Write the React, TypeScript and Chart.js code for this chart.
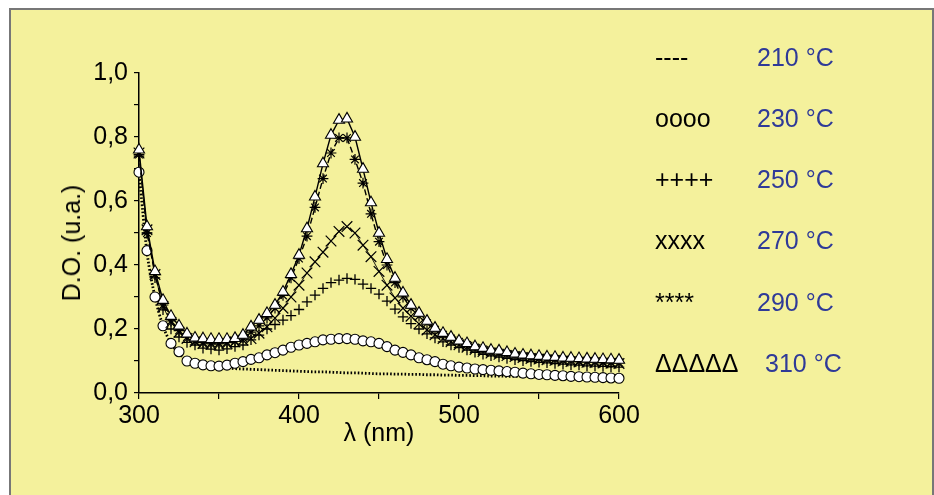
import React, { useEffect, useRef } from 'react';
import { Chart, registerables } from 'chart.js';

Chart.register(...registerables);

const FONT = "'Liberation Sans', Arial, Helvetica, sans-serif";

const WAVELENGTHS = [
  300, 305, 310, 315, 320, 325, 330, 335, 340, 345,
  350, 355, 360, 365, 370, 375, 380, 385, 390, 395,
  400, 405, 410, 415, 420, 425, 430, 435, 440, 445,
  450, 455, 460, 465, 470, 475, 480, 485, 490, 495,
  500, 505, 510, 515, 520, 525, 530, 535, 540, 545,
  550, 555, 560, 565, 570, 575, 580, 585, 590, 595,
  600,
];

const S210 = [
  0.69, 0.44, 0.30, 0.21, 0.155, 0.125, 0.10, 0.09, 0.086, 0.082,
  0.08, 0.078, 0.076, 0.075, 0.074, 0.073, 0.072, 0.071, 0.07, 0.069,
  0.068, 0.067, 0.066, 0.066, 0.065, 0.064, 0.063, 0.063, 0.062, 0.061,
  0.06, 0.06, 0.059, 0.059, 0.058, 0.058, 0.057, 0.057, 0.056, 0.056,
  0.055, 0.055, 0.054, 0.054, 0.053, 0.053, 0.052, 0.052, 0.051, 0.051,
  0.05, 0.05, 0.049, 0.049, 0.048, 0.048, 0.048, 0.047, 0.047, 0.046,
  0.046,
];

const S230 = [
  0.69, 0.445, 0.30, 0.21, 0.155, 0.129, 0.10, 0.093, 0.088, 0.085,
  0.084, 0.087, 0.093, 0.098, 0.105, 0.11, 0.119, 0.126, 0.134, 0.143,
  0.15, 0.155, 0.16, 0.166, 0.168, 0.17, 0.17, 0.168, 0.163, 0.16,
  0.155, 0.145, 0.134, 0.127, 0.119, 0.11, 0.104, 0.098, 0.09, 0.085,
  0.081, 0.078, 0.075, 0.073, 0.071, 0.069, 0.067, 0.065, 0.062, 0.06,
  0.058, 0.057, 0.055, 0.054, 0.052, 0.051, 0.05, 0.049, 0.048, 0.047,
  0.046,
];

const S250 = [
  0.74, 0.50, 0.36, 0.26, 0.20, 0.175, 0.158, 0.15, 0.14, 0.137,
  0.134, 0.138, 0.145, 0.15, 0.166, 0.181, 0.2, 0.214, 0.228, 0.242,
  0.261, 0.285, 0.306, 0.327, 0.345, 0.353, 0.358, 0.355, 0.34, 0.327,
  0.309, 0.287, 0.262, 0.238, 0.217, 0.2, 0.185, 0.172, 0.16, 0.15,
  0.142, 0.134, 0.127, 0.121, 0.116, 0.112, 0.108, 0.104, 0.101, 0.098,
  0.096, 0.094, 0.092, 0.09, 0.088, 0.087, 0.085, 0.084, 0.083, 0.082,
  0.081,
];

const S270 = [
  0.75, 0.51, 0.37, 0.27, 0.22, 0.19, 0.17, 0.16, 0.155, 0.152,
  0.152, 0.155, 0.16, 0.165, 0.17, 0.187, 0.207, 0.234, 0.265, 0.30,
  0.337, 0.375, 0.41, 0.44, 0.475, 0.505, 0.52, 0.50, 0.462, 0.426,
  0.38, 0.337, 0.297, 0.265, 0.24, 0.216, 0.197, 0.182, 0.17, 0.16,
  0.151, 0.143, 0.136, 0.13, 0.125, 0.121, 0.117, 0.114, 0.111, 0.108,
  0.106, 0.104, 0.102, 0.1, 0.098, 0.097, 0.096, 0.095, 0.094, 0.093,
  0.092,
];

const S290 = [
  0.745, 0.50, 0.37, 0.275, 0.225, 0.195, 0.175, 0.163, 0.158, 0.156,
  0.156, 0.158, 0.163, 0.172, 0.19, 0.21, 0.235, 0.265, 0.305, 0.36,
  0.42, 0.49, 0.58, 0.67, 0.75, 0.797, 0.797, 0.73, 0.656, 0.56,
  0.473, 0.40, 0.345, 0.30, 0.265, 0.24, 0.218, 0.198, 0.182, 0.17,
  0.16, 0.15, 0.142, 0.136, 0.13, 0.126, 0.122, 0.118, 0.115, 0.112,
  0.11, 0.108, 0.106, 0.104, 0.102, 0.1, 0.099, 0.098, 0.097, 0.096,
  0.095,
];

const S310 = [
  0.76, 0.52, 0.38, 0.29, 0.24, 0.21, 0.185, 0.172, 0.17, 0.168,
  0.168, 0.168, 0.171, 0.181, 0.207, 0.228, 0.249, 0.275, 0.316, 0.371,
  0.431, 0.514, 0.613, 0.717, 0.806, 0.853, 0.857, 0.80, 0.70, 0.595,
  0.50, 0.418, 0.359, 0.313, 0.275, 0.25, 0.225, 0.203, 0.187, 0.175,
  0.163, 0.155, 0.145, 0.14, 0.134, 0.132, 0.127, 0.122, 0.119, 0.117,
  0.115, 0.113, 0.112, 0.11, 0.109, 0.108, 0.107, 0.106, 0.105, 0.104,
  0.103,
];

const X_TICK_VALUES = [300, 400, 500, 600];
const X_TICK_LABELS = ['300', '400', '500', '600'];
const Y_TICK_VALUES = [0, 0.2, 0.4, 0.6, 0.8, 1.0];
const Y_TICK_LABELS = ['0,0', '0,2', '0,4', '0,6', '0,8', '1,0'];

const X_TITLE = 'λ (nm)';
const Y_TITLE = 'D.O. (u.a.)';

const LEGEND_MARKS = ['----', 'oooo', '++++', 'xxxx', '****', 'ΔΔΔΔΔ'];
const LEGEND_TEMPS = ['210 °C', '230 °C', '250 °C', '270 °C', '290 °C', '310 °C'];

const toPoints = (ys: number[]) => WAVELENGTHS.map((x, i) => ({ x, y: ys[i] }));

export default function App() {
  const ref = useRef<HTMLCanvasElement>(null);

  useEffect(() => {
    if (!ref.current) return;
    const chart = new Chart(ref.current, {
      type: 'line',
      data: {
        datasets: [
          {
            label: '310 °C',
            data: toPoints(S310),
            order: 0,
            borderColor: '#000',
            borderWidth: 1.4,
            pointStyle: 'triangle',
            pointRadius: 6.4,
            pointBackgroundColor: '#fff',
            pointBorderColor: '#000',
            pointBorderWidth: 1.1,
            clip: false,
          },
          {
            label: '290 °C',
            data: toPoints(S290),
            order: 1,
            borderColor: '#000',
            borderWidth: 1.4,
            borderDash: [6, 3],
            pointStyle: 'star',
            pointRadius: 5.4,
            pointBorderColor: '#000',
            pointBorderWidth: 1.2,
            clip: false,
          },
          {
            label: '270 °C',
            data: toPoints(S270),
            order: 2,
            borderColor: '#000',
            borderWidth: 0.9,
            pointStyle: 'crossRot',
            pointRadius: 7.5,
            pointBorderColor: '#000',
            pointBorderWidth: 1.2,
            clip: false,
          },
          {
            label: '250 °C',
            data: toPoints(S250),
            order: 3,
            showLine: false,
            pointStyle: 'cross',
            pointRadius: 5.2,
            pointBorderColor: '#000',
            pointBorderWidth: 1.3,
            clip: false,
          },
          {
            label: '230 °C',
            data: toPoints(S230),
            order: 4,
            showLine: false,
            pointStyle: 'circle',
            pointRadius: 5,
            pointBackgroundColor: '#fff',
            pointBorderColor: '#000',
            pointBorderWidth: 1.1,
            clip: false,
          },
          {
            label: '210 °C',
            data: toPoints(S210),
            order: 5,
            borderColor: '#000',
            borderWidth: 2.8,
            borderDash: [1.6, 2.0],
            pointRadius: 0,
            cubicInterpolationMode: 'monotone',
            clip: false,
          },
        ],
      },
      options: {
        animation: false,
        responsive: false,
        maintainAspectRatio: false,
        devicePixelRatio: 1,
        layout: { padding: { left: 0, top: 73, right: 934 - 619, bottom: 0 } },
        plugins: { legend: { display: false }, tooltip: { enabled: false } },
        elements: { line: { tension: 0 } },
        scales: {
          x: {
            type: 'linear',
            position: 'bottom',
            min: 300,
            max: 600,
            border: { display: true, color: '#000', width: 1.5 },
            grid: { display: true, drawOnChartArea: false, drawTicks: true, tickLength: 6, color: '#000', lineWidth: 1.2 },
            ticks: {
              stepSize: 50,
              autoSkip: false,
              maxRotation: 0,
              color: '#000',
              padding: 2,
              font: { family: FONT, size: 25 },
              callback: (v: any) => {
                const i = X_TICK_VALUES.indexOf(Number(v));
                return i >= 0 ? X_TICK_LABELS[i] : '';
              },
            },
            title: {
              display: true,
              text: X_TITLE,
              color: '#000',
              font: { family: FONT, size: 25, lineHeight: 1.2 },
              padding: { top: 0, bottom: 46 },
            },
            afterFit: (s: any) => { s.height = 102; },
          },
          y: {
            type: 'linear',
            min: 0,
            max: 1,
            border: { display: true, color: '#000', width: 1.5 },
            grid: { display: true, drawOnChartArea: false, drawTicks: true, tickLength: 5, color: '#000', lineWidth: 1.2 },
            ticks: {
              stepSize: 0.1,
              autoSkip: false,
              color: '#000',
              padding: 6,
              font: { family: FONT, size: 25 },
              callback: (v: any) => {
                const n = Math.round(Number(v) * 10) / 10;
                const i = Y_TICK_VALUES.findIndex((t) => Math.abs(t - n) < 1e-6);
                return i >= 0 ? Y_TICK_LABELS[i] : '';
              },
            },
            afterFit: (s: any) => { s.width = 139; },
          },
        },
      },
    } as any);
    return () => chart.destroy();
  }, []);

  const rowCenters = [57, 118, 179, 240, 302, 363];
  const tempLeft = [757, 757, 757, 757, 757, 765];

  return (
    <div style={{ position: 'fixed', left: 0, top: 0, width: 934, height: 495, background: '#fff', overflow: 'hidden', fontFamily: FONT }}>
      <div
        style={{
          position: 'absolute', left: 9, top: 8, width: 921, height: 500,
          background: '#F4F19C', borderLeft: '2px solid #777', borderTop: '2px solid #777', borderRight: '2px solid #777',
        }}
      />
      <canvas ref={ref} width={934} height={495} style={{ position: 'absolute', left: 0, top: 0, width: 934, height: 495 }} />
      <div
        style={{
          position: 'absolute', left: 71, top: 243, fontSize: 25, lineHeight: '30px', color: '#000', whiteSpace: 'nowrap',
          transform: 'translate(-50%, -50%) rotate(-90deg)',
        }}
      >
        {Y_TITLE}
      </div>
      {LEGEND_MARKS.map((m, i) => (
        <div key={'m' + i} style={{ position: 'absolute', left: 655, top: rowCenters[i] - 15, fontSize: 25, lineHeight: '30px', color: '#000', whiteSpace: 'nowrap' }}>
          {m}
        </div>
      ))}
      {LEGEND_TEMPS.map((t, i) => (
        <div key={'t' + i} style={{ position: 'absolute', left: tempLeft[i], top: rowCenters[i] - 15, fontSize: 25, lineHeight: '30px', color: '#2F3A98', whiteSpace: 'nowrap' }}>
          {t}
        </div>
      ))}
    </div>
  );
}
